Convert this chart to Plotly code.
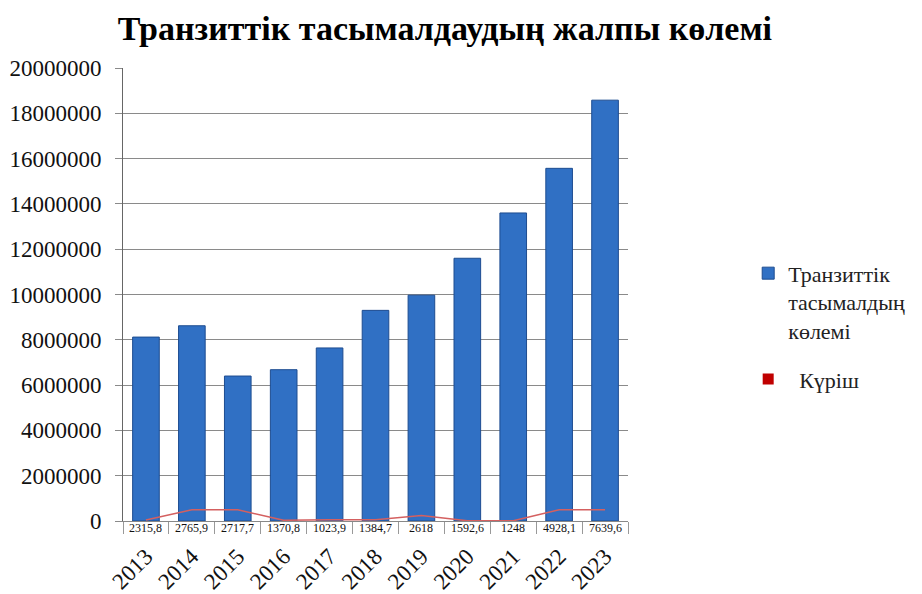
import plotly.graph_objects as go

years = ["2013", "2014", "2015", "2016", "2017", "2018", "2019", "2020", "2021", "2022", "2023"]
transit_volume = [8120000, 8620000, 6400000, 6680000, 7640000, 9300000, 9970000, 11600000, 13600000, 15570000, 18580000]
rice_line = [40000, 500000, 500000, 30000, 60000, 60000, 240000, 10000, 10000, 500000, 500000]
rice_labels = ["2315,8", "2765,9", "2717,7", "1370,8", "1023,9", "1384,7", "2618", "1592,6", "1248", "4928,1", "7639,6"]
y_ticks = [0, 2000000, 4000000, 6000000, 8000000, 10000000, 12000000, 14000000, 16000000, 18000000, 20000000]

SERIF = "Liberation Serif"

fig = go.Figure()
fig.add_trace(go.Bar(
    x=years, y=transit_volume,
    name="Транзиттік<br>тасымалдың<br>көлемі",
    legendgroup="a",
    marker=dict(color="#3070c4", line=dict(color="#1d4c90", width=1)),
))
fig.add_trace(go.Scatter(
    x=years, y=rice_line, mode="lines",
    line=dict(color="#d46060", width=1.5),
    showlegend=False, legendgroup="b", name="Күріш",
))
fig.add_trace(go.Scatter(
    x=years[:1], y=[None], mode="markers", name="  Күріш", legendgroup="b",
    marker=dict(color="#c00000", symbol="square", size=11),
))

for i, lab in enumerate(rice_labels):
    fig.add_annotation(x=i, y=0, xref="x", yref="paper", text=lab,
                       showarrow=False, yshift=-7, yanchor="middle",
                       font=dict(family=SERIF, size=12, color="#111"))

fig.update_layout(
    width=914, height=586,
    margin=dict(l=115, r=294, t=60, b=73, autoexpand=False),
    paper_bgcolor="white", plot_bgcolor="white",
    bargap=0.42,
    title=dict(text="<b>Транзиттік тасымалдаудың жалпы көлемі</b>",
               x=0.478, xanchor="center", y=0.966, yanchor="middle",
               font=dict(family=SERIF, size=34, color="black")),
    legend=dict(x=1.238, y=0.593, xanchor="left", yanchor="top",
                font=dict(family=SERIF, size=22, color="#222"),
                traceorder="grouped", tracegroupgap=17, valign="top"),
    font=dict(family=SERIF, color="#222"),
)
fig.update_xaxes(
    type="category", range=[-0.5, len(years) - 0.5],
    showline=True, linecolor="#888", linewidth=1,
    ticks="outside", tickson="boundaries", ticklen=12, tickcolor="#999",
    tickangle=-45, ticklabelstandoff=12,
    tickfont=dict(family=SERIF, size=23, color="#111"),
    showgrid=False, automargin=False,
)
fig.update_yaxes(
    range=[0, 20000000], tickvals=y_ticks, tickformat="d",
    showgrid=True, gridcolor="#8a8a8a", gridwidth=1,
    showline=True, linecolor="#666", linewidth=1,
    ticks="outside", ticklen=7, tickcolor="#8a8a8a", ticklabelstandoff=9,
    tickfont=dict(family=SERIF, size=23, color="#111"),
    zeroline=False, automargin=False,
)

fig.write_html("out.html")
